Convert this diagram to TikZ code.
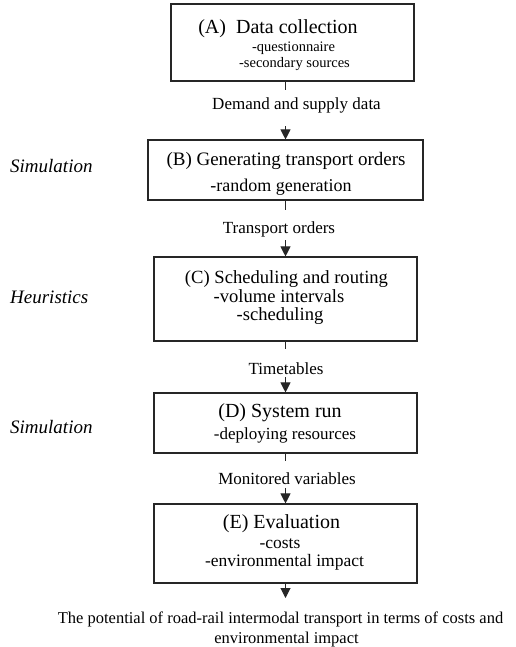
\documentclass[tikz,border=0pt]{standalone}
\usepackage{fontspec}
\setmainfont{Liberation Serif}
\usetikzlibrary{arrows.meta}
\newcommand\fsz[1]{\fontsize{#1}{#1}\selectfont}
\tikzset{
  box/.style={draw=black!85, line width=1.1pt, inner sep=0pt},
  txt/.style={anchor=base, inner sep=0pt},
  lab/.style={txt, font=\fsz{17}},
  side/.style={anchor=base west, inner sep=0pt, font=\fsz{19}\itshape},
  tick/.style={line width=1pt, draw=black!85},
  arr/.style={line width=1pt, draw=black!85, -{Triangle[length=10pt,width=10pt]}}
}
\begin{document}
\begin{tikzpicture}[x=1pt,y=-1pt]
\useasboundingbox (0,0) rectangle (515,647);
% boxes
\node[box, minimum width=243pt, minimum height=77pt] (A) at (292.5,42.5) {};
\node[box, minimum width=275pt, minimum height=60pt] (B) at (285.5,170) {};
\node[box, minimum width=263pt, minimum height=84pt] (C) at (285.5,299) {};
\node[box, minimum width=263pt, minimum height=60pt] (D) at (285.5,423) {};
\node[box, minimum width=263pt, minimum height=79pt] (E) at (285.5,543.5) {};
% box texts
\node[txt, font=\fsz{20}] (A1) at (278,34) {(A)\ \ Data collection};
\node[txt, font=\fsz{14.5}] (A2) at (293.5,51.5) {-questionnaire};
\node[txt, font=\fsz{14.5}] (A3) at (294.5,67.5) {-secondary sources};
\node[txt, font=\fsz{19}] (B1) at (286,165) {(B) Generating transport orders};
\node[txt, font=\fsz{18}] (B2) at (281,191) {-random generation};
\node[txt, font=\fsz{18.6}] (C1) at (286.5,283) {(C) Scheduling and routing};
\node[txt, font=\fsz{18.6}] (C2) at (279,302) {-volume intervals};
\node[txt, font=\fsz{18.6}] (C3) at (280,320) {-scheduling};
\node[txt, font=\fsz{20}] (D1) at (280,417.5) {(D) System run};
\node[txt, font=\fsz{17}] (D2) at (285,439) {-deploying resources};
\node[txt, font=\fsz{20}] (E1) at (281.5,528) {(E) Evaluation};
\node[txt, font=\fsz{17.5}] (E2) at (280,548) {-costs};
\node[txt, font=\fsz{17.5}] (E3) at (284.5,566.5) {-environmental impact};
% side labels
\node[side] (S1) at (10,172) {Simulation};
\node[side] (S2) at (10,303) {Heuristics};
\node[side] (S3) at (10,433) {Simulation};
% connector labels
\node[lab] (L1) at (296.5,110) {Demand and supply data};
\node[lab] (L2) at (279,233) {Transport orders};
\node[lab] (L3) at (286,374) {Timetables};
\node[lab] (L4) at (287,484) {Monitored variables};
% final text
\node[txt, font=\fsz{16.5}] (F1) at (280.5,623) {The potential of road-rail intermodal transport in terms of costs and};
\node[txt, font=\fsz{16.5}] (F2) at (286.5,643) {environmental impact};
\coordinate (Fend) at (285.5,598);
% connectors
\draw[tick] (A.south -| B.north) -- ++(0,8);
\draw[arr] ([yshift=13pt]B.north) -- (B.north);
\draw[tick] (B.south) -- ++(0,9);
\draw[arr] ([yshift=16pt]C.north) -- (C.north);
\draw[tick] (C.south) -- ++(0,7);
\draw[arr] ([yshift=15pt]D.north) -- (D.north);
\draw[tick] (D.south) -- ++(0,7);
\draw[arr] ([yshift=15pt]E.north) -- (E.north);
\draw[arr] (E.south) -- (Fend);
\end{tikzpicture}
\end{document}
